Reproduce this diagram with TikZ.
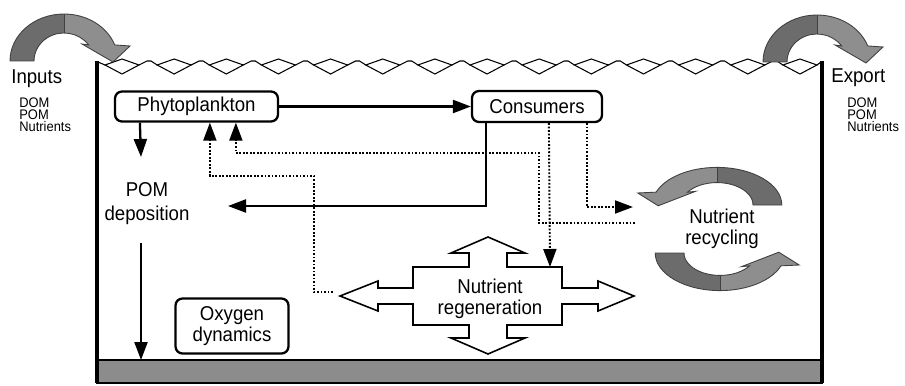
\documentclass[tikz,border=0pt]{standalone}
\usepackage{fontspec}
\setmainfont{Liberation Sans}[FakeStretch=0.93]
\usetikzlibrary{arrows.meta,calc}
\definecolor{bedgray}{RGB}{140,140,140}
\definecolor{arrowdark}{RGB}{108,108,108}
\definecolor{arrowlight}{RGB}{142,142,142}
\tikzset{
	box/.style={draw, line width=1.3pt, rounded corners=4pt, align=center, inner sep=2pt},
	txt/.style={align=center, inner sep=0pt},
	listtxt/.style={font=\fontsize{7.9}{7}\selectfont, align=left, inner sep=0pt},
	flow/.style={line width=1.3pt, -{Triangle[length=0.36cm,width=0.26cm]}},
	dotflow/.style={line width=1.1pt, dash pattern=on 1pt off 1pt, -{Triangle[length=0.36cm,width=0.26cm]}},
	wave/.style={line width=0.6pt},
	bend arrow/.pic={
			\fill[arrowdark] (-54,0) arc[start angle=180,end angle=270,x radius=54,y radius=47] -- (0,-28)
				arc[start angle=270,end angle=180,x radius=30,y radius=28] -- cycle;
			\fill[arrowlight] (0,-47) arc[start angle=270,end angle=340,x radius=54,y radius=47]
				-- (66,-15) -- (49,1) -- (18,-17) -- (325:30 and 28)
				arc[start angle=325,end angle=270,x radius=30,y radius=28] -- cycle;
			\draw[line width=0.5pt, black!75] (-54,0) arc[start angle=180,end angle=340,x radius=54,y radius=47]
				-- (66,-15) -- (49,1) -- (18,-17) -- (325:30 and 28)
				arc[start angle=325,end angle=180,x radius=30,y radius=28] -- cycle;
			\draw[line width=0.5pt, black!75] (0,-47) -- (0,-28);
		}
}
\begin{document}
\begin{tikzpicture}[x=0.02cm, y=-0.02cm, font=\fontsize{11.4}{11.6}\selectfont]
	\useasboundingbox (0,0) rectangle (905,385);
	% tank and bed
	\draw[line width=0.8pt, fill=bedgray] (97,360) rectangle (822,383);
	\draw[line width=1.8pt] (97,61) -- (97,383);
	\draw[line width=1.8pt] (822,61) -- (822,383);
	% water surface
	\draw[wave] (98,62) -- (105,65);
	\foreach \i in {0,...,13}
		\draw[wave] ({105+52.15*\i},65) -- ++(17,-6) -- ++(17,6) -- ++(-17,9) -- cycle;
	\foreach \i in {0,...,12}
		\draw[wave] ({139+52.15*\i},65) -- ++(8,-4) -- ++(4,0) -- ++(6.15,4);
	\draw[wave] (817,65) -- (821,62);
	% in and out
	\pic at (64,61) {bend arrow};
	\pic at (817,62) {bend arrow};
	\node[txt, anchor=base west] (inputs) at (11,84) {Inputs};
	\node[listtxt, anchor=north west] (inlist) at (19,97) {DOM\\POM\\Nutrients};
	\node[txt, anchor=base west] (export) at (831,83) {Export};
	\node[listtxt, anchor=north west] (outlist) at (847,97) {DOM\\POM\\Nutrients};
	% recycling
	\pic[xscale=-1.2, yscale=0.8] at (717,205) {bend arrow};
	\pic[xscale=1.2, yscale=-0.8] at (720,253) {bend arrow};
	\node[txt] (recyc) at (722,229) {Nutrient\\recycling};
	% regeneration
	\begin{scope}[shift={(488,296)}]
		\draw[line width=0.9pt, fill=white] (-148,0) -- (-110,-15) -- (-110,-8) -- (-75,-8) -- (-75,-29)
			-- (-19,-29) -- (-19,-43) -- (-37,-43) -- (0,-59) -- (37,-43) -- (19,-43) -- (19,-29)
			-- (74,-29) -- (74,-8) -- (110,-8) -- (110,-15) -- (146,0) -- (110,15) -- (110,8)
			-- (74,8) -- (74,29) -- (19,29) -- (19,42) -- (37,42) -- (0,58) -- (-37,42) -- (-19,42)
			-- (-19,29) -- (-75,29) -- (-75,8) -- (-110,8) -- (-110,15) -- cycle;
	\end{scope}
	\node[txt] (regen) at (490,299) {Nutrient\\regeneration};
	% boxes
	\node[box, minimum width=3.26cm, minimum height=0.6cm] (phyto) at (196.5,106.5) {Phytoplankton};
	\node[box, minimum width=2.6cm, minimum height=0.62cm] (cons) at (537,106.5) {Consumers};
	\node[box, minimum width=2.26cm, minimum height=1.1cm] (oxy) at (232,326) {Oxygen\\dynamics};
	\node[txt, font=\fontsize{11.4}{13.6}\selectfont] (pom) at (147,204) {POM\\deposition};
	% end points
	\coordinate (pomin) at (141,157);
	\coordinate (pomside) at (228,206);
	\coordinate (pomout) at (141,243);
	\coordinate (bedtop) at (141,360);
	\coordinate (regenW) at (333,292);
	\coordinate (regenN) at (550,267);
	\coordinate (recin) at (633,207);
	\coordinate (recout) at (635,223);
	\coordinate (turnA) at (539,153);
	\coordinate (turnB) at (314,176);
	% flows
	\draw[flow] (phyto.east) -- (cons.west);
	\draw[flow] ($(phyto.south west)+(26,0)$) -- (pomin);
	\draw[flow] ($(cons.south west)+(15,0)$) |- (pomside);
	\draw[flow] (pomout) -- (bedtop);
	\draw[dotflow] (regenW) -| (turnB) -| ($(phyto.south west)+(96,0)$);
	\draw[dotflow] (recout) -| (turnA) -| ($(phyto.south west)+(122,0)$);
	\draw[dotflow] ($(cons.south west)+(78,0)$) -- (regenN);
	\draw[dotflow] ($(cons.south west)+(116,0)$) |- (recin);
\end{tikzpicture}
\end{document}
